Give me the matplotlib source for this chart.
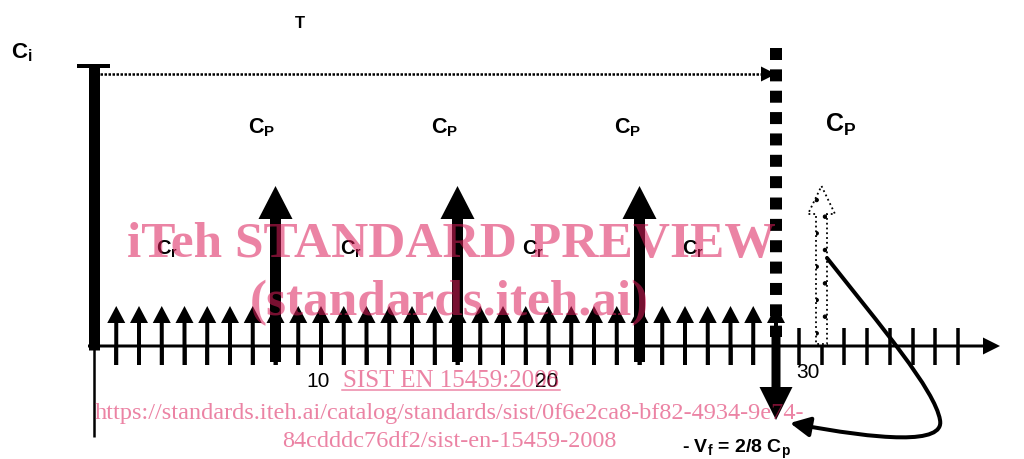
import matplotlib
matplotlib.use('Agg')
import matplotlib.pyplot as plt
from matplotlib.patches import FancyArrowPatch
from matplotlib.path import Path

# ---------------- data ----------------
cr_days = list(range(1, 31))          # regular small pulses C_r
cr_height = 1.0
cp_days = [8, 16, 24]                  # periodic large pulses C_p
cp_height = 4.0
ci_level = 7.0                         # initial level C_i
T_day = 30                             # period T
next_cp_day = 32                       # next (future) C_p
vf_level = -1.85                       # - V_f = 2/8 C_p (as drawn)
tick_days = list(range(1, 39))
tick_label_pos = [9.85, 19.9, 31.4]
tick_label_text = ['10', '20', '30']
cr_label_x = [2.75, 10.85, 18.85, 25.85]
cp_label_x = [6.8, 14.85, 22.9]

# ---------------- layout helpers ----------------
DPI = 100
W, H = 1024, 459
X0, SX = 93.5, 22.75
Y0, SY = 346.0, 40.0

def px2u(x): return (x - X0) / SX
def px2v(y): return (Y0 - y) / SY
def wu(px): return px / SX
def wv(px): return px / SY
def pt(px): return px * 72.0 / DPI

plt.rcParams['mathtext.fontset'] = 'custom'
plt.rcParams['mathtext.rm'] = 'Liberation Sans'
plt.rcParams['mathtext.bf'] = 'Liberation Sans:bold'
plt.rcParams['mathtext.it'] = 'Liberation Sans:italic'
plt.rcParams['hatch.linewidth'] = 0.8

fig = plt.figure(figsize=(W / DPI, H / DPI), dpi=DPI)
ax = fig.add_axes([0, 0, 1, 1])
ax.set_xlim(px2u(0), px2u(W))
ax.set_ylim(px2v(H), px2v(0))
ax.axis('off')
K = 'black'

# main horizontal axis with arrow
ax.arrow(px2u(88), 0, px2u(1000) - px2u(88), 0, width=wv(3), head_width=wv(17),
         head_length=wu(17), length_includes_head=True, color=K, lw=0, zorder=3)
# thin vertical axis below
ax.plot([0, 0], [0, px2v(437)], lw=pt(2.5), color=K, solid_capstyle='butt')

# ticks below the axis
for d in tick_days:
    ax.plot([d, d], [px2v(365), 0], lw=pt(3.5), color=K, solid_capstyle='butt')
    if d not in cr_days and d != next_cp_day:
        ax.plot([d, d], [0, px2v(328)], lw=pt(3.5), color=K, solid_capstyle='butt')

# small C_r arrows
for d in cr_days:
    ax.arrow(d, px2v(365), 0, cr_height - px2v(365), width=wu(4), head_width=wu(18),
             head_length=wv(17), length_includes_head=True, color=K, lw=0, zorder=4)

# large C_p arrows
for d in cp_days:
    ax.arrow(d, px2v(362), 0, cp_height - px2v(362), width=wu(11), head_width=wu(34),
             head_length=wv(33), length_includes_head=True, color=K, lw=0, zorder=5)

# C_i bar with cap
ax.plot([0, 0], [px2v(350), ci_level], lw=pt(11), color=K, solid_capstyle='butt', zorder=5)
ax.plot([px2u(77), px2u(110)], [ci_level, ci_level], lw=pt(4), color=K,
        solid_capstyle='butt', zorder=5)

# dotted T line with arrowhead
t_lvl = px2v(74)
ax.plot([px2u(100), T_day - wu(15)], [t_lvl, t_lvl], lw=pt(2.5), color=K,
        ls=(0, (1, 0.6)), dash_capstyle='butt')
ax.arrow(T_day - wu(15), t_lvl, wu(15), 0, width=wv(1), head_width=wv(15),
         head_length=wu(15), length_includes_head=True, color=K, lw=0, zorder=6)

# thick dashed line at T
ax.plot([T_day, T_day], [px2v(48), px2v(337)], lw=pt(12), color=K,
        ls=(0, (1.0, 0.78)), dash_capstyle='butt', zorder=6)

# -V_f arrow downward
ax.arrow(T_day, px2v(328), 0, vf_level - px2v(328), width=wu(9), head_width=wu(33),
         head_length=wv(33), length_includes_head=True, color=K, lw=0, zorder=6)

# future C_p: dotted hollow arrow
ax.arrow(next_cp_day, px2v(344), 0, cp_height - px2v(344), width=wu(11), head_width=wu(27),
         head_length=wv(28), length_includes_head=True, facecolor='white', edgecolor=K,
         hatch='.', ls=':', lw=1.3, zorder=4)

# curved arrow from future C_p to -V_f
pts = [(827, 258), (880, 325), (935, 390), (940, 420), (945, 445), (880, 440), (790, 423)]
verts = [(px2u(x), px2v(y)) for x, y in pts]
codes = [Path.MOVETO] + [Path.CURVE4] * 6
curve = FancyArrowPatch(path=Path(verts, codes), arrowstyle='-|>,head_length=0.6,head_width=0.3',
                        mutation_scale=20, lw=pt(4), color=K, zorder=7)
ax.add_patch(curve)

# ---------------- text ----------------
ax.text(px2u(295), px2v(28), 'T', fontsize=12, fontweight='bold', family='Liberation Sans',
        ha='left', va='baseline')
ax.text(px2u(11), px2v(58), r'$\mathbf{C}_\mathbf{i}$', fontsize=16, ha='left', va='baseline')
for x in cp_label_x:
    ax.text(x, px2v(133), r'$\mathbf{C}_\mathbf{P}$', fontsize=15.5, ha='left', va='baseline')
ax.text(px2u(825), px2v(132), r'$\mathbf{C}_\mathbf{P}$', fontsize=18, ha='left', va='baseline')
for x in cr_label_x:
    ax.text(x, px2v(255), r'$\mathbf{C}_\mathbf{r}$', fontsize=14.5, ha='left', va='baseline')
for x, s in zip(tick_label_pos, tick_label_text):
    y = px2v(378) if s == '30' else px2v(387)
    ax.text(x, y, s, fontsize=15, family='Liberation Sans', ha='center', va='baseline')
ax.text(px2u(682), px2v(453), r'- $\mathbf{V_f}$ = 2/8 $\mathbf{C_p}$', fontsize=14,
        fontweight='bold', family='Liberation Sans', ha='left', va='baseline')

# ---------------- watermark ----------------
wm = dict(color=(0.863, 0.118, 0.353), alpha=0.55, family='Liberation Serif',
          ha='center', va='baseline', zorder=20)
ax.text(px2u(451), px2v(257), 'iTeh STANDARD PREVIEW', fontsize=37, fontweight='bold', **wm)
ax.text(px2u(449), px2v(315), '(standards.iteh.ai)', fontsize=37, fontweight='bold', **wm)
ax.text(px2u(451), px2v(387), 'SIST EN 15459:2008', fontsize=18, **wm)
ax.plot([px2u(342), px2u(560)], [px2v(390), px2v(390)], lw=pt(1.5),
        color=(0.863, 0.118, 0.353), alpha=0.55, zorder=20)
ax.text(px2u(450), px2v(419),
        'https://standards.iteh.ai/catalog/standards/sist/0f6e2ca8-bf82-4934-9e74-',
        fontsize=17.5, **wm)
ax.text(px2u(449), px2v(447), '84cdddc76df2/sist-en-15459-2008', fontsize=17.5, **wm)

fig.savefig('out.png', dpi=DPI, facecolor='white')
